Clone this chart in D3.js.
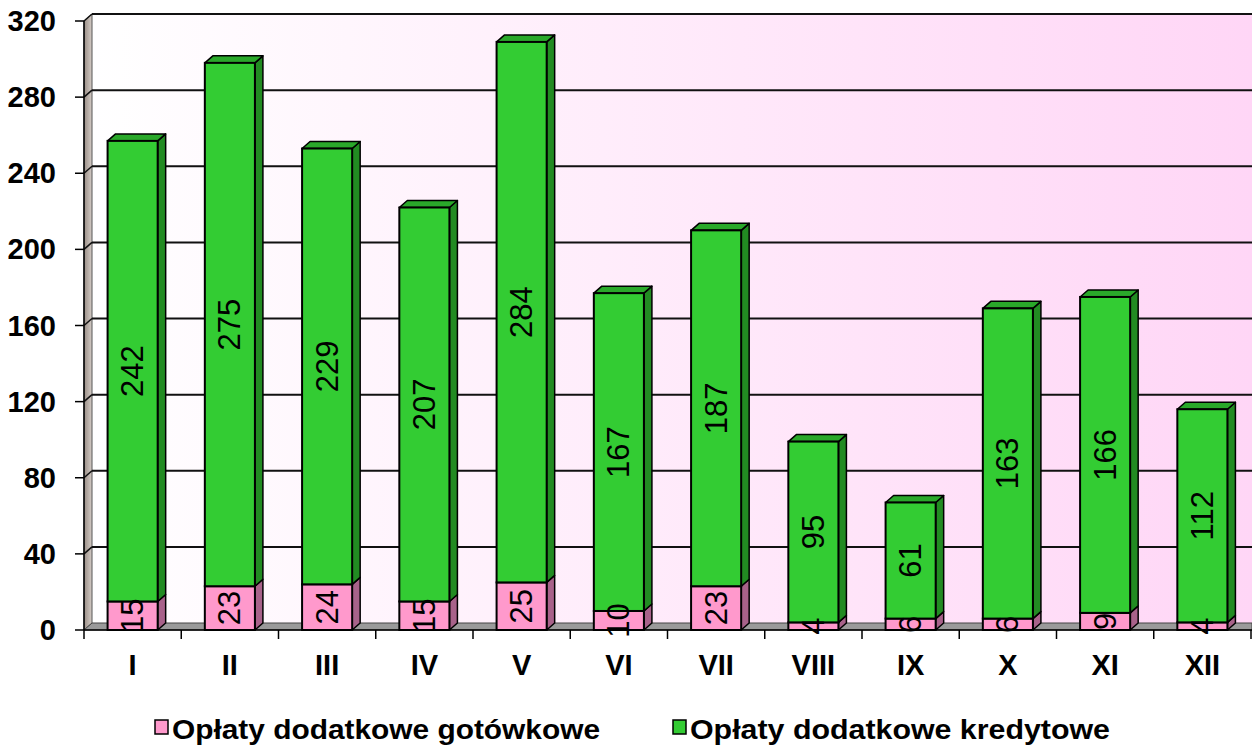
<!DOCTYPE html>
<html>
<head>
<meta charset="utf-8">
<script src="https://cdn.jsdelivr.net/npm/d3@7"></script>
<style>
  body { margin: 0; background: #fff; }
  svg { display: block; font-family: Arial, "Liberation Sans", sans-serif; }
</style>
</head>
<body>
<div id="chart"></div>
<script>
// data
var months = ["I", "II", "III", "IV", "V", "VI", "VII", "VIII", "IX", "X", "XI", "XII"];
var cash = [15, 23, 24, 15, 25, 10, 23, 4, 6, 6, 9, 4];
var credit = [242, 275, 229, 207, 284, 167, 187, 95, 61, 163, 166, 112];
var yTicks = [0, 40, 80, 120, 160, 200, 240, 280, 320];
var seriesNames = ["Opłaty dodatkowe gotówkowe", "Opłaty dodatkowe kredytowe"];

var W = 1252, H = 745;
var plotLeft = 84, plotRight = 1251, plotBottom = 630, plotTop = 21;
var dx = 8, dy = -7;   // 3d depth

var colors = {
  cash: { front: "#ff99cc", side: "#a8628a", top: "#d67fae" },
  credit: { front: "#33cc33", side: "#228b22", top: "#2aa82a" }
};

var svg = d3.select("#chart").append("svg")
  .attr("width", W)
  .attr("height", H);

var defs = svg.append("defs");
var grad = defs.append("linearGradient").attr("id", "wallGrad")
  .attr("x1", "0").attr("x2", "1").attr("y1", "0").attr("y2", "0");
grad.append("stop").attr("offset", "0").attr("stop-color", "#ffffff");
grad.append("stop").attr("offset", "1").attr("stop-color", "#ffd6f6");

var sideGrad = defs.append("linearGradient").attr("id", "sideGrad")
  .attr("x1", "0").attr("x2", "1").attr("y1", "0").attr("y2", "0");
sideGrad.append("stop").attr("offset", "0").attr("stop-color", "#9a8e86");
sideGrad.append("stop").attr("offset", "1").attr("stop-color", "#d4ccc6");

// scales
var y = d3.scaleLinear().domain([0, 320]).range([plotBottom, plotTop]);
var x = d3.scaleBand().domain(months).range([plotLeft, plotRight])
  .paddingInner(0.485).paddingOuter(0.2425);
var xTick = d3.scaleLinear().domain([0, months.length]).range([plotLeft, plotRight]);

// back wall
svg.append("rect")
  .attr("x", plotLeft + dx).attr("y", y(320) + dy)
  .attr("width", W - plotLeft - dx).attr("height", y(0) - y(320))
  .attr("fill", "url(#wallGrad)");

// side wall
svg.append("polygon")
  .attr("points", [[plotLeft, y(320)], [plotLeft + dx, y(320) + dy], [plotLeft + dx, y(0) + dy], [plotLeft, y(0)]].join(" "))
  .attr("fill", "url(#sideGrad)")
  .attr("stroke", "#555").attr("stroke-width", 1);

// floor
svg.append("polygon")
  .attr("points", [[plotLeft, y(0)], [plotLeft + dx, y(0) + dy], [W, y(0) + dy], [W, y(0)]].join(" "))
  .attr("fill", "#9a9a9a")
  .attr("stroke", "#444").attr("stroke-width", 1);

// gridlines
var grid = svg.append("g");
yTicks.filter(function(d) { return d > 0; }).forEach(function(v) {
  grid.append("line")
    .attr("x1", plotLeft + dx).attr("x2", W)
    .attr("y1", y(v) + dy).attr("y2", y(v) + dy)
    .attr("stroke", "#111").attr("stroke-width", 2);
  grid.append("line")
    .attr("x1", plotLeft).attr("x2", plotLeft + dx)
    .attr("y1", y(v)).attr("y2", y(v) + dy)
    .attr("stroke", "#111").attr("stroke-width", 1.5);
});

// bars
var bars = svg.append("g");
months.forEach(function(m, i) {
  var x0 = x(m), w = x.bandwidth();
  var segs = [
    { key: "cash", y0: 0, y1: cash[i], v: cash[i] },
    { key: "credit", y0: cash[i], y1: cash[i] + credit[i], v: credit[i] }
  ];
  segs.forEach(function(s, j) {
    var yt = y(s.y1), yb = y(s.y0);
    var c = colors[s.key];
    bars.append("polygon")
      .attr("points", [[x0 + w, yt], [x0 + w + dx, yt + dy], [x0 + w + dx, yb + dy], [x0 + w, yb]].join(" "))
      .attr("fill", c.side).attr("stroke", "#000").attr("stroke-width", 1.5)
      .attr("stroke-linejoin", "round");
    if (j === segs.length - 1) {
      bars.append("polygon")
        .attr("points", [[x0, yt], [x0 + dx, yt + dy], [x0 + w + dx, yt + dy], [x0 + w, yt]].join(" "))
        .attr("fill", c.top).attr("stroke", "#000").attr("stroke-width", 1.5)
        .attr("stroke-linejoin", "round");
    }
    bars.append("rect")
      .attr("x", x0).attr("y", yt)
      .attr("width", w).attr("height", yb - yt)
      .attr("fill", c.front).attr("stroke", "#000").attr("stroke-width", 2);
  });
  segs.forEach(function(s) {
    var cx = x0 + w / 2, cy = (y(s.y0) + y(s.y1)) / 2;
    bars.append("text")
      .attr("transform", "translate(" + cx + "," + cy + ") rotate(-90)")
      .attr("text-anchor", "middle")
      .attr("dominant-baseline", "central")
      .attr("font-size", 31)
      .attr("fill", "#000")
      .text(s.v);
  });
});

// y axis
var yAxis = svg.append("g");
yAxis.append("line")
  .attr("x1", plotLeft).attr("x2", plotLeft).attr("y1", y(320)).attr("y2", y(0))
  .attr("stroke", "#000").attr("stroke-width", 1.5);
yTicks.forEach(function(v) {
  yAxis.append("line")
    .attr("x1", plotLeft - 9).attr("x2", plotLeft).attr("y1", y(v)).attr("y2", y(v))
    .attr("stroke", "#000").attr("stroke-width", 1.5);
  yAxis.append("text")
    .attr("x", 56).attr("y", y(v))
    .attr("text-anchor", "end").attr("dominant-baseline", "central")
    .attr("font-size", 29).attr("font-weight", "bold")
    .text(v);
});

// x axis
var xAxis = svg.append("g");
xAxis.append("line")
  .attr("x1", plotLeft).attr("x2", W).attr("y1", y(0)).attr("y2", y(0))
  .attr("stroke", "#000").attr("stroke-width", 1.5);
d3.range(months.length + 1).forEach(function(i) {
  xAxis.append("line")
    .attr("x1", xTick(i)).attr("x2", xTick(i)).attr("y1", y(0)).attr("y2", y(0) + 9)
    .attr("stroke", "#000").attr("stroke-width", 1.5);
});
months.forEach(function(m) {
  xAxis.append("text")
    .attr("x", x(m) + x.bandwidth() / 2).attr("y", 665)
    .attr("text-anchor", "middle").attr("dominant-baseline", "central")
    .attr("font-size", 29).attr("font-weight", "bold")
    .text(m);
});

// legend
var legend = svg.append("g");
var legendX = [155, 673];
var legendLen = [428, 420];
["cash", "credit"].forEach(function(k, i) {
  legend.append("rect")
    .attr("x", legendX[i]).attr("y", 720)
    .attr("width", 13).attr("height", 14)
    .attr("fill", colors[k].front).attr("stroke", "#000").attr("stroke-width", 1.5);
  legend.append("text")
    .attr("x", legendX[i] + 17).attr("y", 729)
    .attr("dominant-baseline", "central")
    .attr("font-size", 28).attr("font-weight", "bold")
    .attr("textLength", legendLen[i]).attr("lengthAdjust", "spacingAndGlyphs")
    .text(seriesNames[i]);
});
</script>
</body>
</html>
